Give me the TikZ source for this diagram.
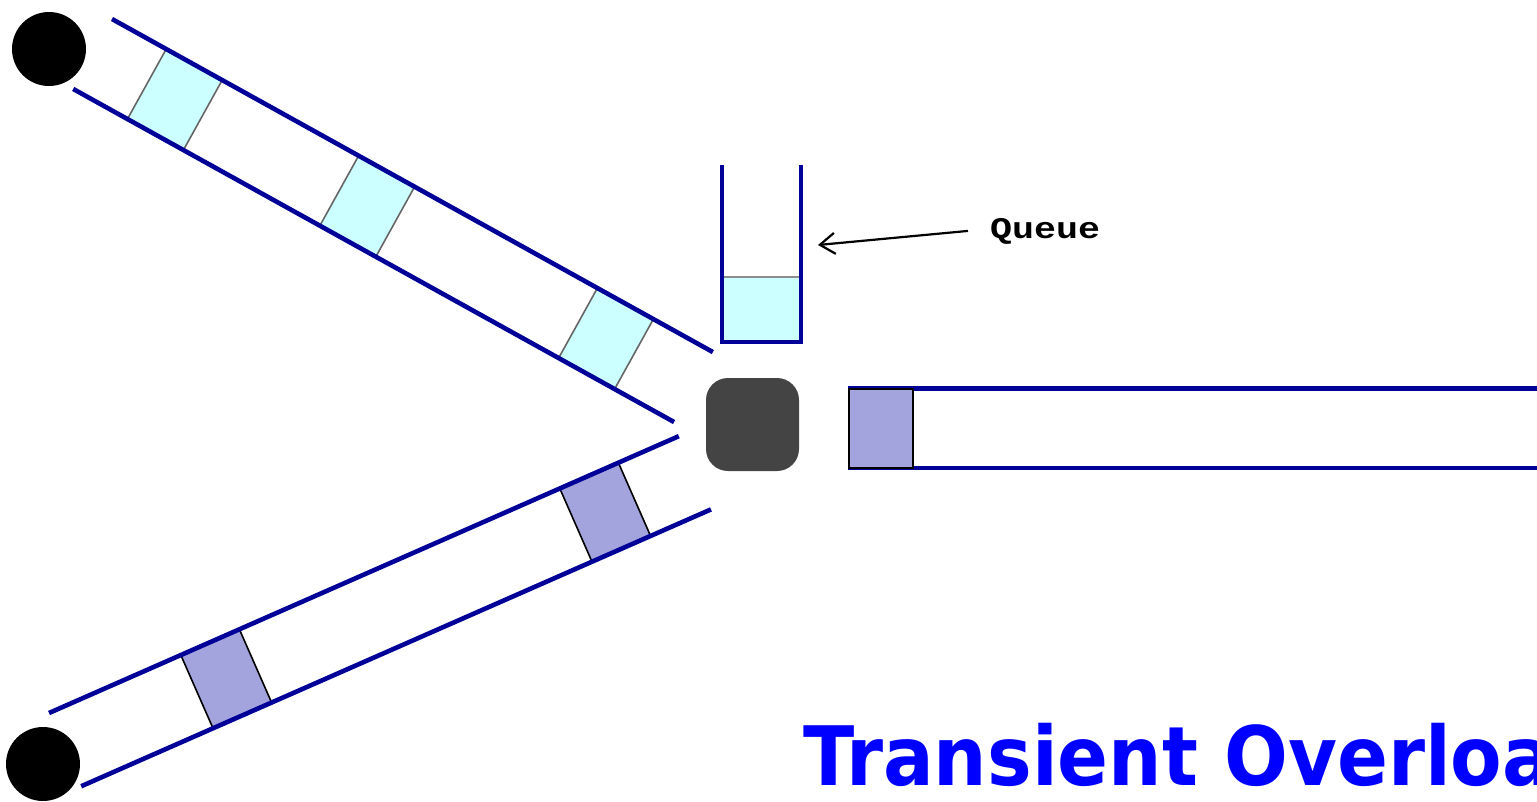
\documentclass[tikz,border=0pt]{standalone}
\usepackage{fontspec}
\setmonofont{Liberation Mono}
\newfontfamily\titlefont{DejaVu Sans}
\usepackage{tikz}
\usetikzlibrary{arrows.meta}

\definecolor{pipeblue}{RGB}{0,0,153}
\definecolor{pktcyan}{RGB}{204,255,255}
\definecolor{pktpurple}{RGB}{163,163,222}
\definecolor{routergray}{RGB}{68,68,68}
\definecolor{titleblue}{RGB}{0,0,255}

\begin{document}
\begin{tikzpicture}[x=1pt,y=-1pt,>={Straight Barb[length=15pt,width=21pt]}]

		\tikzstyle{wall}=[draw=pipeblue,line width=4.6pt]
		\tikzstyle{cyan packet}=[fill=pktcyan,draw=black!60,line width=1.6pt]
		\tikzstyle{purple packet}=[fill=pktpurple,draw=black,line width=1.6pt]
		\tikzstyle{host}=[circle,fill=black,minimum size=74pt,inner sep=0pt]
		\tikzstyle{router}=[rectangle,rounded corners=22pt,fill=routergray,
			minimum size=93pt,inner sep=0pt]

		\useasboundingbox (0,0) rectangle (1537,801);

		\node [host] (src1) at (49,49) {};
		\node [host] (src2) at (43,764) {};
		\node [router] (rtr) at (752.5,424.5) {};

		% upper link
		\begin{scope}[shift={(112,19)},rotate=-29]
			\foreach \s in {62,282,555}
				\draw [cyan packet] (\s,0) -- ++(64,0) -- ++(0,80) -- ++(-64,0) -- cycle;
			\draw [wall] (0,0) -- (687,0) (0,80) -- (687,80);
		\end{scope}

		% lower link
		\begin{scope}[shift={(49,713)},rotate=23.73]
			\foreach \s in {144,558}
				\draw [purple packet] (\s,0) -- ++(64,0) -- ++(0,80) -- ++(-64,0) -- cycle;
			\draw [wall] (0,0) -- (688,0) (0,80) -- (688,80);
		\end{scope}

		% outgoing link
		\draw [wall] (848,388.5) -- (1545,388.5) (848,468) -- (1545,468);
		\draw [purple packet] (849,389) rectangle (913,468);

		% queue
		\fill [pktcyan] (722,277) rectangle (801,341);
		\draw [black!45,line width=1.6pt] (722,277) -- (801,277);
		\draw [wall] (722,165) -- (722,342) -- (801,342) -- (801,165);

		\node [anchor=base west,inner sep=0pt,font=\ttfamily\bfseries\fontsize{30}{36}\selectfont]
			(qlabel) at (990,238) {\scalebox{1.22}[1]{Queue}};
		\coordinate (qtip) at (818,245);
		\draw [->,line width=2.2pt] ([xshift=-22pt]qlabel.west) -- (qtip);

		\node [anchor=base west,inner sep=0pt,text=titleblue,
			font=\titlefont\bfseries\fontsize{82}{98}\selectfont]
			(title) at (803,785) {\scalebox{0.916}[1]{Transient Overload}};
	\end{tikzpicture}
\end{document}
